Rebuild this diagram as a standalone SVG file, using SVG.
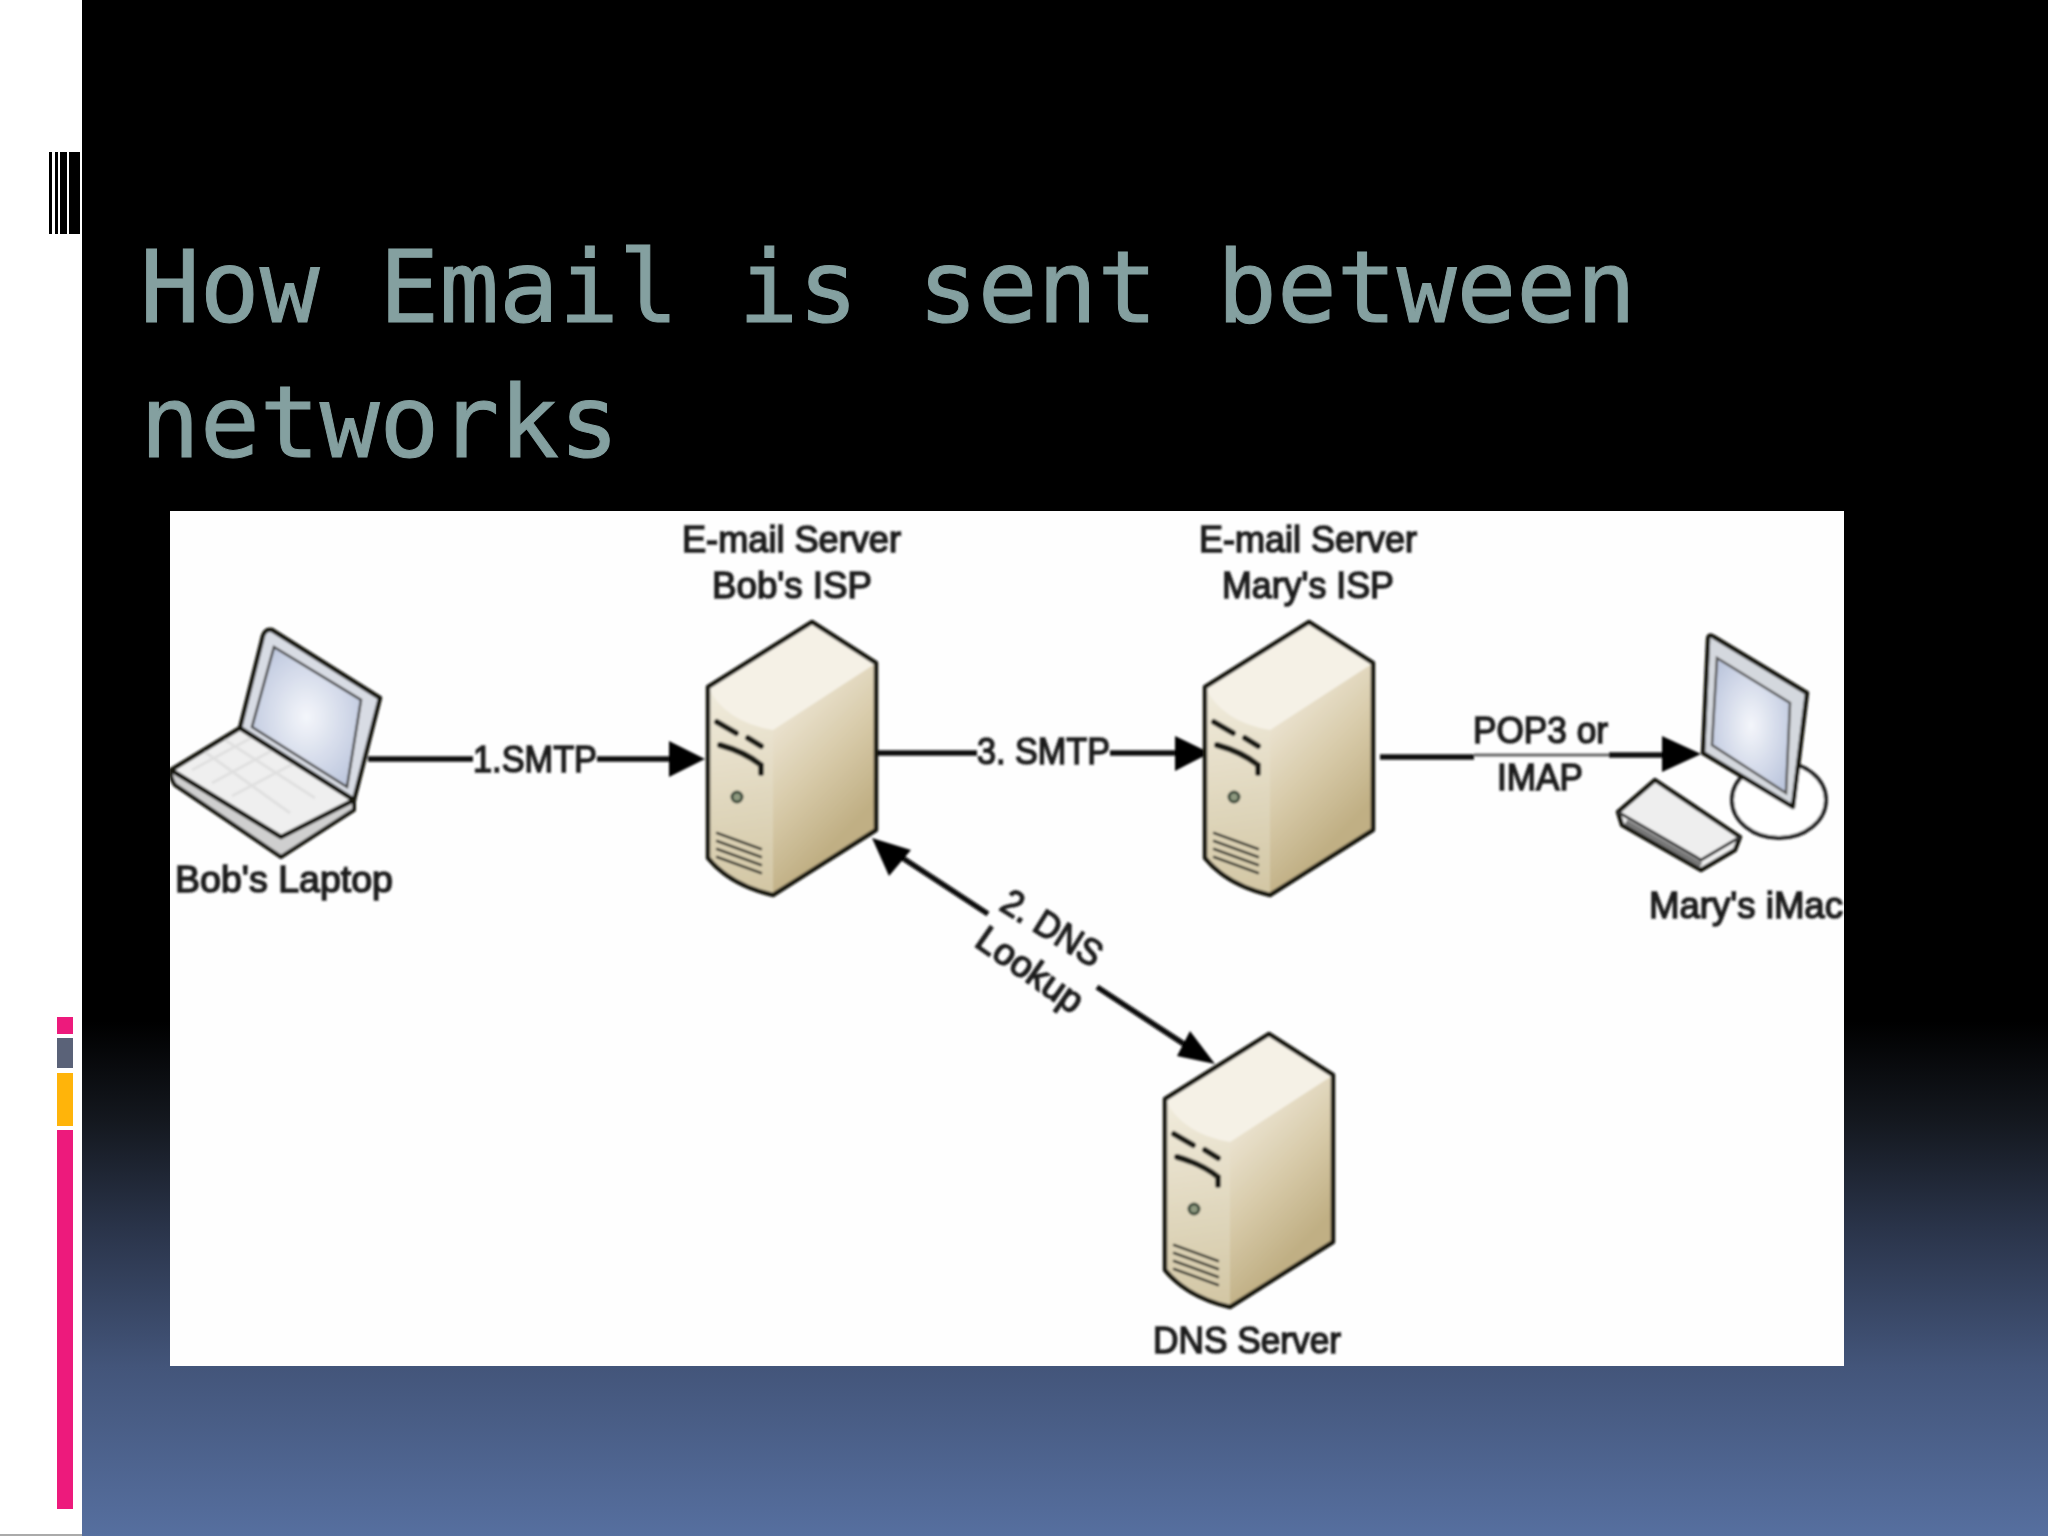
<svg xmlns="http://www.w3.org/2000/svg" width="2048" height="1536" viewBox="0 0 2048 1536">
<style>
.title{font-family:"DejaVu Sans Mono","Liberation Mono",monospace;font-size:100px;fill:#84a0a0;stroke:#84a0a0;stroke-width:1}
.lb{font-family:"Liberation Sans",Arial,sans-serif;font-size:37px;fill:#1e1e1e;stroke:#1e1e1e;stroke-width:1.5}
.ol{stroke:#161610;stroke-width:4.5;stroke-linejoin:round;stroke-linecap:round}
.thin{fill:none;stroke:#3a3a30;stroke-width:2.5;stroke-linecap:round}
.dark{fill:none;stroke:#1e1e18;stroke-width:6;stroke-linecap:round}
.wire{fill:none;stroke:#0c0c0c;stroke-width:5.5}
.head{fill:#050505}
</style>
<defs>
<linearGradient id="bg" x1="0" y1="0" x2="0" y2="1536" gradientUnits="userSpaceOnUse">
<stop offset="0" stop-color="#000"/><stop offset=".665" stop-color="#000"/><stop offset=".73" stop-color="#14181f"/><stop offset=".8" stop-color="#2a344a"/><stop offset=".89" stop-color="#43557a"/><stop offset="1" stop-color="#566f9f"/>
</linearGradient>
<linearGradient id="side" x1="773" y1="700" x2="876" y2="800" gradientUnits="userSpaceOnUse"><stop offset="0" stop-color="#f0eadb"/><stop offset=".55" stop-color="#d8cbaa"/><stop offset="1" stop-color="#c0af84"/></linearGradient>
<linearGradient id="front" x1="720" y1="690" x2="750" y2="890" gradientUnits="userSpaceOnUse"><stop offset="0" stop-color="#f0ebdc"/><stop offset="1" stop-color="#d3c7a5"/></linearGradient>
<radialGradient id="scr" cx=".5" cy=".5" r=".6"><stop offset="0" stop-color="#f4f6fb"/><stop offset="1" stop-color="#bcc6dd"/></radialGradient>
<filter id="soft" x="-2%" y="-2%" width="104%" height="104%"><feGaussianBlur stdDeviation="1.1"/></filter>
<clipPath id="imgclip"><rect x="170" y="511" width="1674" height="855"/></clipPath>
<g id="server">
<path d="M812 622L876 663V830L773 895Q730 885 708 858V687Z" fill="url(#front)"/>
<path d="M773 730L876 663V830L773 895Z" fill="url(#side)"/>
<path d="M812 622L876 663L773 730Q725 722 708 687Z" fill="#f5f1e6"/>
<path class="ol" fill="none" d="M812 622L876 663V830L773 895Q730 885 708 858V687Z"/>
<path class="dark" d="M717 722L736 733M748 738L761 746M720 745Q745 752 761 765V773"/>
<circle cx="737" cy="797" r="5" fill="#8f9a80" stroke="#3a4a3a" stroke-width="3"/>
<path class="thin" d="M717 833L761 849M717 841L761 857M717 849L761 865M717 857L761 873"/>
</g>
</defs>
<rect id="backdrop" width="2048" height="1536" fill="url(#bg)"/>
<g id="sidebar">
<rect width="82" height="1536" fill="#fff"/>
<rect x="0" y="1534" width="82" height="2" fill="#aaa"/>
<g fill="#000"><rect x="49" y="152" width="3" height="82"/><rect x="55" y="152" width="3" height="82"/><rect x="60" y="152" width="7" height="82"/><rect x="69" y="152" width="11" height="82"/></g>
<rect x="57" y="1017" width="16" height="17" fill="#ed1a7c"/>
<rect x="57" y="1038" width="16" height="30" fill="#5a6278"/>
<rect x="57" y="1073" width="16" height="53" fill="#ffb40a"/>
<rect x="57" y="1130" width="16" height="379" fill="#ed1a7c"/>
</g>
<g id="title">
<text class="title" x="140" y="322" textLength="1496" lengthAdjust="spacingAndGlyphs">How Email is sent between</text>
<text class="title" x="140" y="457" textLength="479" lengthAdjust="spacingAndGlyphs">networks</text>
</g>
<rect id="panel" x="170" y="511" width="1674" height="855" fill="#fefefe"/>
<g id="diagram" clip-path="url(#imgclip)"><g filter="url(#soft)">
<g id="connectors">
<path class="wire" d="M368 759H473M597 759H670"/><path class="head" d="M705 759L669 741V777Z"/>
<path class="wire" d="M876 753H977M1110 753H1176"/><path class="head" d="M1210 753L1175 736V771Z"/>
<path class="wire" d="M1380 757H1474" stroke-width="7"/><path d="M1474 755H1609" fill="none" stroke="#666" stroke-width="3"/><path class="wire" d="M1609 755H1664"/><path class="head" d="M1701 754L1662 736V772Z"/>
<path class="wire" d="M898 855L988 914M1097 987L1190 1048"/><path class="head" d="M872 838L911 850L889 876Z"/><path class="head" d="M1215 1064L1190 1031L1177 1056Z"/>
</g>
<g id="bobs-laptop">
<path d="M171 770L281 837L354 800V810L281 857L175 785Q170 778 171 770Z" fill="#cfcfcf" stroke="#161610" stroke-width="4" stroke-linejoin="round"/>
<path class="ol" fill="#efefef" d="M171 770L240 728L354 800L281 837Z"/>
<path d="M192 770L262 732M212 783L284 744M232 796L306 757M205 752L290 813M225 740L315 798" fill="none" stroke="#e0e0e0" stroke-width="3"/>
<path class="ol" fill="#d8dce4" d="M240 728L262 640Q264 628 272 630L380 698L354 800Z"/>
<path d="M274 647L361 700L347 787L252 727Z" fill="url(#scr)" stroke="#444" stroke-width="2.5"/>
</g>
<g id="bobs-isp-server"><use href="#server"/></g>
<g id="marys-isp-server"><use href="#server" x="497"/></g>
<g id="dns-server"><use href="#server" x="457" y="412"/></g>
<g id="marys-imac">
<ellipse cx="1779" cy="800" rx="47" ry="38" fill="#fff" stroke="#222" stroke-width="4"/>
<path class="ol" fill="#d4d8de" d="M1708 640Q1708 633 1714 637L1807 693L1793 807L1703 753Z"/>
<path d="M1717 658L1790 703L1786 793L1712 745Z" fill="url(#scr)" stroke="#555" stroke-width="2.5"/>
<path class="ol" fill="#eeeeee" d="M1655 780L1740 837L1735 850L1701 870L1622 825L1618 812Z"/>
<path d="M1618 812L1701 860L1740 837" fill="none" stroke="#333" stroke-width="3"/>
<path d="M1626 822L1701 865" fill="none" stroke="#777" stroke-width="5"/>
</g>
<g id="labels">
<text class="lb" x="682" y="552" textLength="219" lengthAdjust="spacingAndGlyphs">E-mail Server</text>
<text class="lb" x="712" y="598" textLength="160" lengthAdjust="spacingAndGlyphs">Bob's ISP</text>
<text class="lb" x="1199" y="552" textLength="218" lengthAdjust="spacingAndGlyphs">E-mail Server</text>
<text class="lb" x="1222" y="598" textLength="172" lengthAdjust="spacingAndGlyphs">Mary's ISP</text>
<text class="lb" x="175" y="892" textLength="218" lengthAdjust="spacingAndGlyphs">Bob's Laptop</text>
<text class="lb" x="473" y="772" textLength="124" lengthAdjust="spacingAndGlyphs">1.SMTP</text>
<text class="lb" x="977" y="764" textLength="133" lengthAdjust="spacingAndGlyphs">3. SMTP</text>
<text class="lb" x="1473" y="743" textLength="135" lengthAdjust="spacingAndGlyphs">POP3 or</text>
<text class="lb" x="1497" y="790" textLength="86" lengthAdjust="spacingAndGlyphs">IMAP</text>
<text class="lb" x="1649" y="918" textLength="194" lengthAdjust="spacingAndGlyphs">Mary's iMac</text>
<text class="lb" x="1153" y="1353" textLength="188" lengthAdjust="spacingAndGlyphs">DNS Server</text>
<text class="lb" transform="translate(998 909) rotate(32)" textLength="112" lengthAdjust="spacingAndGlyphs">2. DNS</text>
<text class="lb" transform="translate(973 945) rotate(35)" textLength="122" lengthAdjust="spacingAndGlyphs">Lookup</text>
</g>
</g></g>
</svg>
